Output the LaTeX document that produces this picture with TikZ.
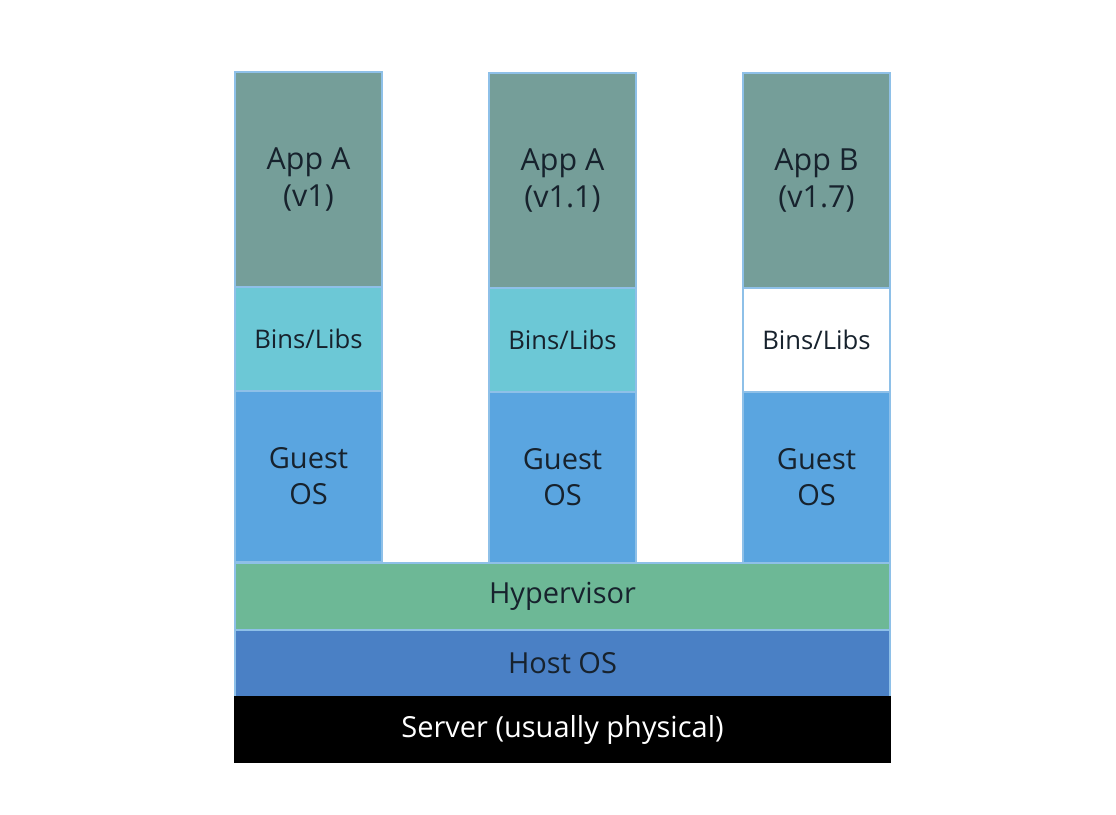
\documentclass[tikz,border=0pt]{standalone}
\usepackage{fontspec}
\setmainfont{Open Sans}
\usetikzlibrary{positioning}
\definecolor{appcol}{HTML}{759E99}
\definecolor{bincol}{HTML}{6CC8D6}
\definecolor{guestcol}{HTML}{5AA5E0}
\definecolor{hypcol}{HTML}{6DB896}
\definecolor{hostcol}{HTML}{4A80C5}
\definecolor{edgecol}{HTML}{8EC0E8}
\definecolor{txtcol}{HTML}{17222D}

\begin{document}
\begin{tikzpicture}[
  layer/.style={draw=edgecol, line width=0.6pt, inner sep=0pt, outer sep=0pt,
    minimum width=2.94cm, align=center, text=txtcol, font=\fontsize{16.5}{20.5}\selectfont},
  app/.style={layer, fill=appcol, minimum height=4.3cm, font=\fontsize{17.3}{20.5}\selectfont},
  bins/.style={layer, fill=bincol, minimum height=2.08cm, font=\fontsize{14.6}{18}\selectfont},
  guest/.style={layer, fill=guestcol, minimum height=3.42cm},
  base/.style={layer, minimum width=13.1cm, minimum height=1.34cm}
  ]
\useasboundingbox (0,0) rectangle (22.32,-16.28);

% APPS
\node[app, anchor=north west] (appA) at (4.70,-1.44) {App A\\(v1)};
\node[app, anchor=north west] (appB) at (9.78,-1.46) {App A\\(v1.1)};
\node[app, anchor=north west] (appC) at (14.86,-1.46) {App B\\(v1.7)};

% BINS/LIBS
\node[bins, below=0pt of appA] (binsA) {Bins/Libs};
\node[bins, below=0pt of appB] (binsB) {Bins/Libs};
\node[bins, below=0pt of appC, fill=white] (binsC) {Bins/Libs};

% GUEST OS
\node[guest, below=0pt of binsA] (guestA) {Guest\\OS};
\node[guest, below=0pt of binsB] (guestB) {Guest\\OS};
\node[guest, below=0pt of binsC] (guestC) {Guest\\OS};

% BASE LAYERS
\node[base, fill=hypcol, below=0pt of guestB] (hyp) {Hypervisor};
\node[base, fill=hostcol, below=0pt of hyp] (host) {Host OS};
\node[base, fill=black, draw=black, text=white, minimum height=1.3cm, below=0pt of host] (server) {Server (usually physical)};

\end{tikzpicture}
\end{document}
